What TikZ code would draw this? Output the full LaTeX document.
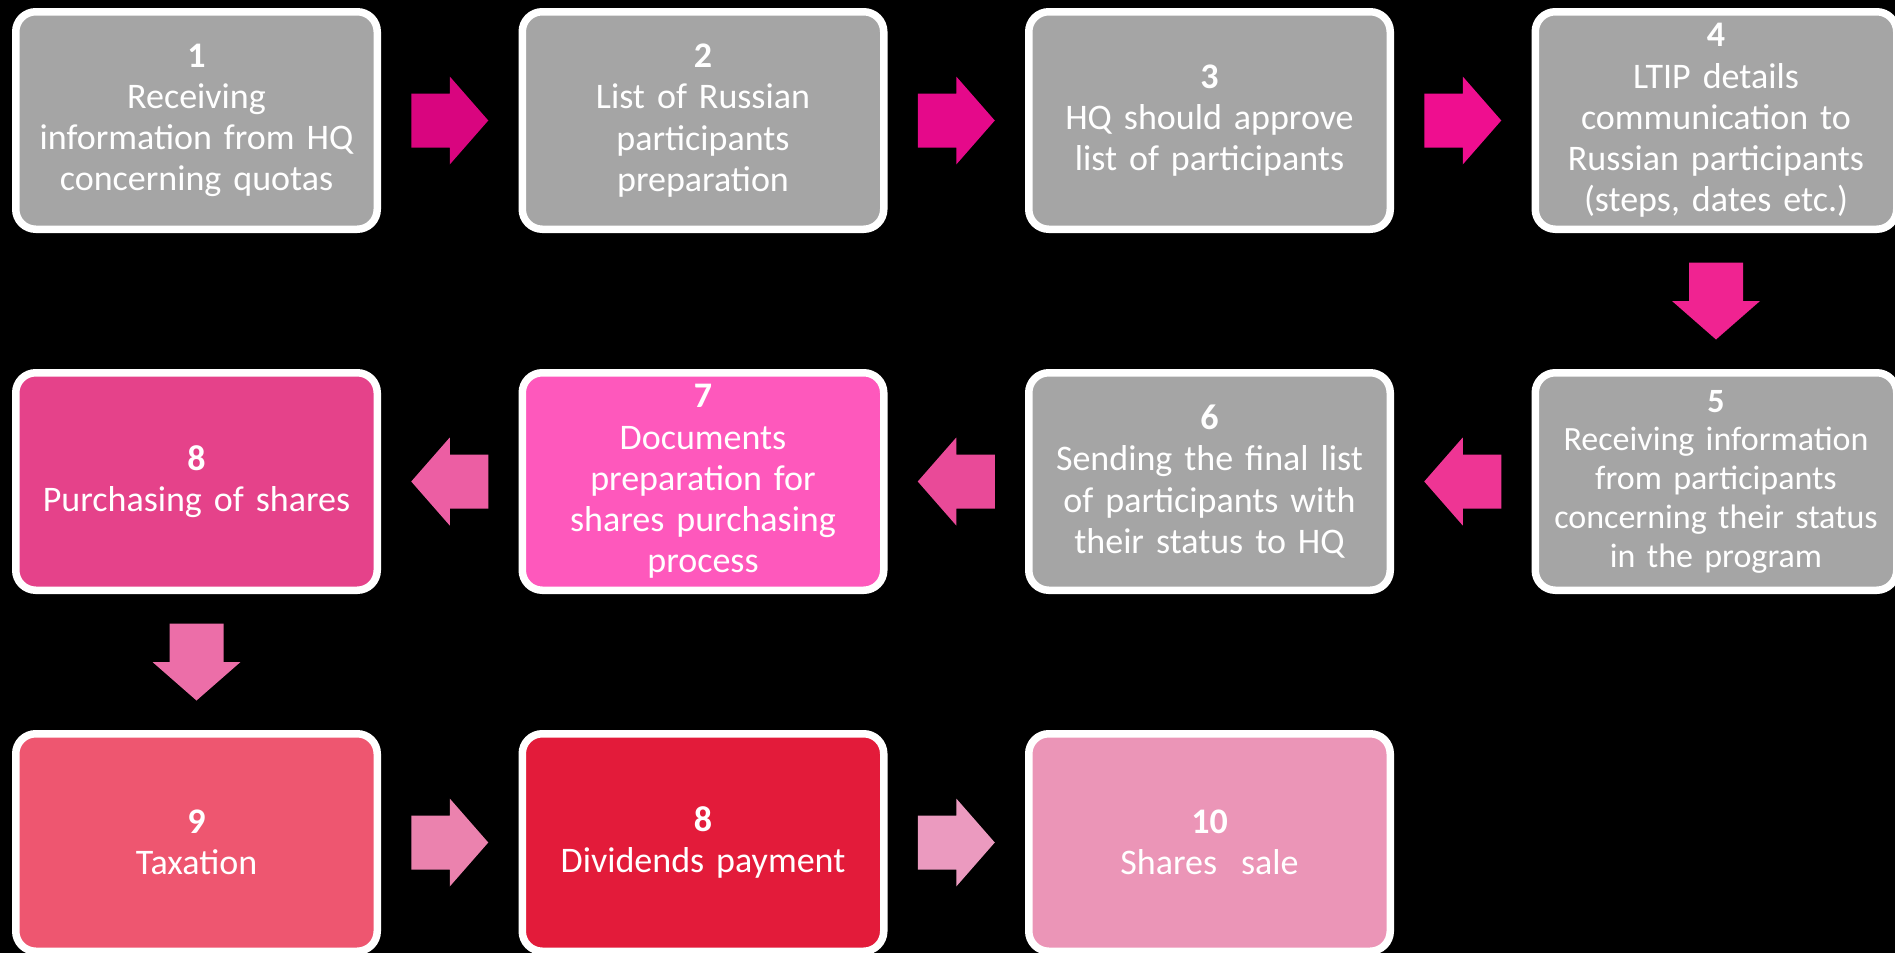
\documentclass[tikz,border=0pt]{standalone}
\usepackage{fontspec}
\setmainfont{Carlito}
\usetikzlibrary{calc}
\definecolor{boxgray}{HTML}{A5A5A5}
\definecolor{cEight}{HTML}{E5428A}
\definecolor{cSeven}{HTML}{FE58BC}
\definecolor{cNine}{HTML}{EE5670}
\definecolor{cDiv}{HTML}{E31B3A}
\definecolor{cSale}{HTML}{EB95B7}
\definecolor{aA}{HTML}{D9057F}
\definecolor{aB}{HTML}{E5098A}
\definecolor{aC}{HTML}{EF0E8F}
\definecolor{aD}{HTML}{F02391}
\definecolor{aE}{HTML}{EE3594}
\definecolor{aF}{HTML}{E94A98}
\definecolor{aG}{HTML}{EC5EA3}
\definecolor{aH}{HTML}{EC6EA8}
\definecolor{aI}{HTML}{EB82AE}
\definecolor{aJ}{HTML}{EB9ABF}
\tikzset{
  stepbox/.style={draw=white, line width=3.75pt, rounded corners=10pt,
    minimum width=180.75pt, minimum height=108.75pt, inner sep=0pt,
    text=white, align=center, text width=178pt,
    font=\fontsize{18pt}{20.6pt}\selectfont},
  smalltext/.style={font=\fontsize{17pt}{19.4pt}\selectfont},
  blockarrow/.pic={\fill[pic actions] (-38.5,-27) -- (0,-27) -- (0,-44) -- (38.5,0) -- (0,44) -- (0,27) -- (-38.5,27) -- cycle;}
}
\begin{document}
\begin{tikzpicture}[x=0.5pt,y=-0.5pt]
\useasboundingbox (0,0) rectangle (1895,953);
\fill[black] (0,0) rectangle (1895,953);
% row 1
\node[stepbox, fill=boxgray] (b1) at (196.5,120.5) {\textbf{1}\\Receiving\\information from HQ\\concerning quotas};
\node[stepbox, fill=boxgray] (b2) at (703,120.5) {\textbf{2}\\List of Russian\\participants\\preparation};
\node[stepbox, fill=boxgray] (b3) at (1209.5,120.5) {\textbf{3}\\HQ should approve\\list of participants};
\node[stepbox, fill=boxgray] (b4) at (1716,120.5) {\textbf{4}\\LTIP details\\communication to\\Russian participants\\(steps, dates etc.)};
% row 2
\node[stepbox, smalltext, fill=boxgray] (b5) at (1716,481.5) {\textbf{5}\\Receiving information\\from participants\\concerning their status\\in the program};
\node[stepbox, fill=boxgray] (b6) at (1209.5,481.5) {\textbf{6}\\Sending the final list\\of participants with\\their status to HQ};
\node[stepbox, fill=cSeven] (b7) at (703,481.5) {\textbf{7}\\Documents\\preparation for\\shares purchasing\\process};
\node[stepbox, fill=cEight] (b8) at (196.5,481.5) {\textbf{8}\\Purchasing of shares};
% row 3
\node[stepbox, fill=cNine] (b9) at (196.5,842.5) {\textbf{9}\\Taxation};
\node[stepbox, fill=cDiv] (b10) at (703,842.5) {\textbf{8}\\Dividends payment};
\node[stepbox, fill=cSale] (b11) at (1209.5,842.5) {\textbf{10}\\Shares\ \ sale};
% arrows
\pic[fill=aA] at ($(b1.east)!0.5!(b2.west)$) {blockarrow};
\pic[fill=aB] at ($(b2.east)!0.5!(b3.west)$) {blockarrow};
\pic[fill=aC] at ($(b3.east)!0.5!(b4.west)$) {blockarrow};
\pic[fill=aD, rotate=270] at ($(b4.south)!0.5!(b5.north)$) {blockarrow};
\pic[fill=aE, rotate=180] at ($(b5.west)!0.5!(b6.east)$) {blockarrow};
\pic[fill=aF, rotate=180] at ($(b6.west)!0.5!(b7.east)$) {blockarrow};
\pic[fill=aG, rotate=180] at ($(b7.west)!0.5!(b8.east)$) {blockarrow};
\pic[fill=aH, rotate=270] at ($(b8.south)!0.5!(b9.north)$) {blockarrow};
\pic[fill=aI] at ($(b9.east)!0.5!(b10.west)$) {blockarrow};
\pic[fill=aJ] at ($(b10.east)!0.5!(b11.west)$) {blockarrow};
\end{tikzpicture}
\end{document}
